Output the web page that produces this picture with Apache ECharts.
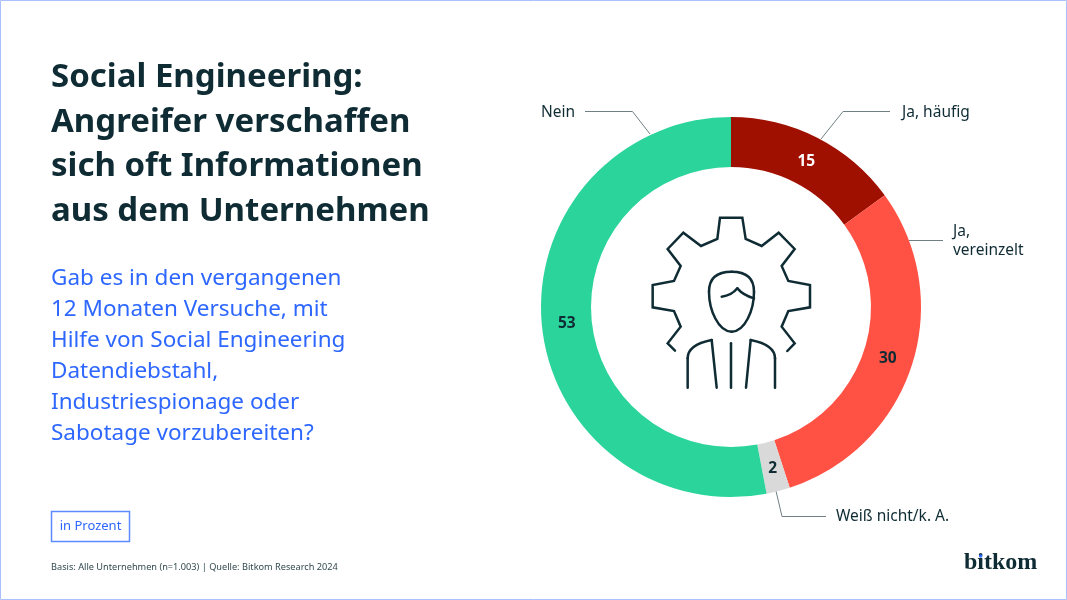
<!DOCTYPE html>
<html>
<head>
<meta charset="utf-8">
<style>
html,body{margin:0;padding:0;background:#fff;}
#chart{width:1067px;height:600px;}
</style>
<script src="https://cdn.jsdelivr.net/npm/echarts@6/dist/echarts.min.js"></script>
</head>
<body>
<div id="chart"></div>
<script>
var categories = ['Ja, häufig', 'Ja,\nvereinzelt', 'Weiß nicht/k. A.', 'Nein'];
var values = [15, 30, 2, 53];
var sliceColors = ['#a01000', '#ff5244', '#d9d9d9', '#2bd49a'];
var valueColors = ['#ffffff', '#0f2b33', '#0f2b33', '#0f2b33'];
var titleLines = ['Social Engineering:', 'Angreifer verschaffen', 'sich oft Informationen', 'aus dem Unternehmen'];
var questionLines = ['Gab es in den vergangenen', '12 Monaten Versuche, mit', 'Hilfe von Social Engineering', 'Datendiebstahl,', 'Industriespionage oder', 'Sabotage vorzubereiten?'];
var unitText = 'in Prozent';
var sourceText = 'Basis: Alle Unternehmen (n=1.003) | Quelle: Bitkom Research 2024';

var dark = '#0f2b33';
var blue = '#2d67ff';
var font = '"Noto Sans"';

// Beschriftungen aussen: Position der Texte und Fuehrungslinien
var outerLabels = [
	{x: 902, y: 113, align: 'left', line: [[821, 139], [843, 111.5], [890, 111.5]]},
	{x: 953, y: 241, align: 'left', line: [[909, 240.5], [943, 240.5]]},
	{x: 836, y: 517, align: 'left', line: [[776, 491], [782, 516.5], [826, 516.5]]},
	{x: 575, y: 113, align: 'right', line: [[650, 134], [632.5, 111.5], [585, 111.5]]}
];
// kleine Korrektur der Wertelabels im Ring
var valueNudge = [[-1, 4], [-3, 0], [0, -1], [3, 1]];

var pieData = [];
for (var i = 0; i < values.length; i++) {
	pieData.push({
		name: categories[i],
		value: values[i],
		itemStyle: {color: sliceColors[i]},
		label: {color: valueColors[i]}
	});
}

var graphics = [{
	type: 'rect',
	shape: {x: 0.5, y: 0.5, width: 1066, height: 599},
	style: {fill: 'none', stroke: '#a9c2ff', lineWidth: 1}
}];
for (var t = 0; t < titleLines.length; t++) {
	graphics.push({
		type: 'text', x: 51, y: 77.5 + t * 44.6,
		style: {text: titleLines[t], fill: dark, font: 'bold 33px ' + font, textVerticalAlign: 'middle'}
	});
}
for (var q = 0; q < questionLines.length; q++) {
	graphics.push({
		type: 'text', x: 51, y: 279 + q * 31,
		style: {text: questionLines[q], fill: blue, font: '22.5px ' + font, textVerticalAlign: 'middle'}
	});
}
graphics.push({
	type: 'rect',
	shape: {x: 51.5, y: 511.5, width: 78, height: 30},
	style: {fill: '#fff', stroke: '#5d8bff', lineWidth: 1.5}
});
graphics.push({
	type: 'text', x: 90.5, y: 526.5,
	style: {text: unitText, fill: blue, font: '13px ' + font, textAlign: 'center', textVerticalAlign: 'middle'}
});
graphics.push({
	type: 'text', x: 51, y: 567,
	style: {text: sourceText, fill: '#33494f', font: '9.2px ' + font, textVerticalAlign: 'middle'}
});
graphics.push({
	type: 'text', x: 964, y: 563,
	style: {text: 'bitkom', fill: dark, font: 'bold 24px "Liberation Serif"', textVerticalAlign: 'middle'}
});
graphics.push({
	type: 'circle',
	shape: {cx: 980.7, cy: 556, r: 1.7},
	style: {fill: blue}
});

// Icon in der Mitte (Zahnrad mit Person)
var iconStyle = {fill: 'none', stroke: dark, lineWidth: 7.5, lineCap: 'round'};
var gearPoints = [[165, 452], [143, 430], [182, 380], [162, 333], [98, 322], [98, 255], [162, 243], [182, 198], [143, 147], [190, 98], [243, 138], [292, 117], [300, 53], [367, 53], [377, 117], [425, 138], [476, 98], [524, 147], [485, 198], [505, 243], [570, 255], [570, 322], [505, 333], [485, 380], [524, 430], [502, 453]];
function iconLine(points) {
	return {type: 'polyline', shape: {points: points}, style: iconStyle};
}
function iconCurve(x1, y1, c1x, c1y, c2x, c2y, x2, y2) {
	return {
		type: 'bezierCurve',
		shape: {x1: x1, y1: y1, cpx1: c1x, cpy1: c1y, cpx2: c2x, cpy2: c2y, x2: x2, y2: y2},
		style: iconStyle
	};
}
graphics.push({
	type: 'group', x: 620, y: 200, scaleX: 1 / 3, scaleY: 1 / 3,
	children: [
		iconLine(gearPoints),
		// Kopf
		iconCurve(335, 215, 290, 215, 267, 235, 267, 275),
		iconCurve(267, 275, 267, 330, 295, 395, 335, 395),
		iconCurve(335, 395, 375, 395, 402, 330, 402, 275),
		iconCurve(402, 275, 402, 235, 380, 215, 335, 215),
		// Haare
		iconCurve(305, 290, 325, 288, 340, 280, 352, 265),
		iconCurve(352, 265, 365, 280, 385, 290, 402, 295),
		// Schultern und Revers
		iconLine([[203, 563], [203, 475]]),
		iconCurve(203, 475, 203, 445, 235, 428, 275, 420),
		iconLine([[275, 420], [290, 563]]),
		iconLine([[333, 430], [333, 563]]),
		iconLine([[378, 563], [392, 420]]),
		iconCurve(392, 420, 432, 428, 465, 445, 465, 475),
		iconLine([[465, 475], [465, 563]])
	]
});

var chart = echarts.init(document.getElementById('chart'));
chart.setOption({
	animation: false,
	textStyle: {fontFamily: font},
	graphic: graphics,
	series: [{
		// Ring mit den Werten
		type: 'pie',
		center: [731, 307],
		radius: [140, 190],
		startAngle: 90,
		clockwise: true,
		silent: true,
		label: {
			position: 'inside',
			formatter: '{c}',
			fontSize: 15.5,
			fontWeight: 'bold',
			fontFamily: font
		},
		labelLine: {show: false},
		labelLayout: function (params) {
			var n = valueNudge[params.dataIndex];
			return {dx: n[0], dy: n[1]};
		},
		data: pieData
	}, {
		// unsichtbarer Ring, traegt nur die Kategorien
		type: 'pie',
		center: [731, 307],
		radius: [140, 190],
		startAngle: 90,
		clockwise: true,
		silent: true,
		itemStyle: {color: 'transparent'},
		label: {
			position: 'outside',
			formatter: '{b}',
			fontSize: 15.5,
			lineHeight: 19,
			color: dark,
			fontFamily: font
		},
		labelLine: {show: true, lineStyle: {color: '#6f7f84', width: 1}},
		labelLayout: function (params) {
			var o = outerLabels[params.dataIndex];
			return {x: o.x, y: o.y, align: o.align, verticalAlign: 'middle', labelLinePoints: o.line};
		},
		data: categories.map(function (c, i) {
			return {name: c, value: values[i]};
		})
	}]
});
</script>
</body>
</html>
